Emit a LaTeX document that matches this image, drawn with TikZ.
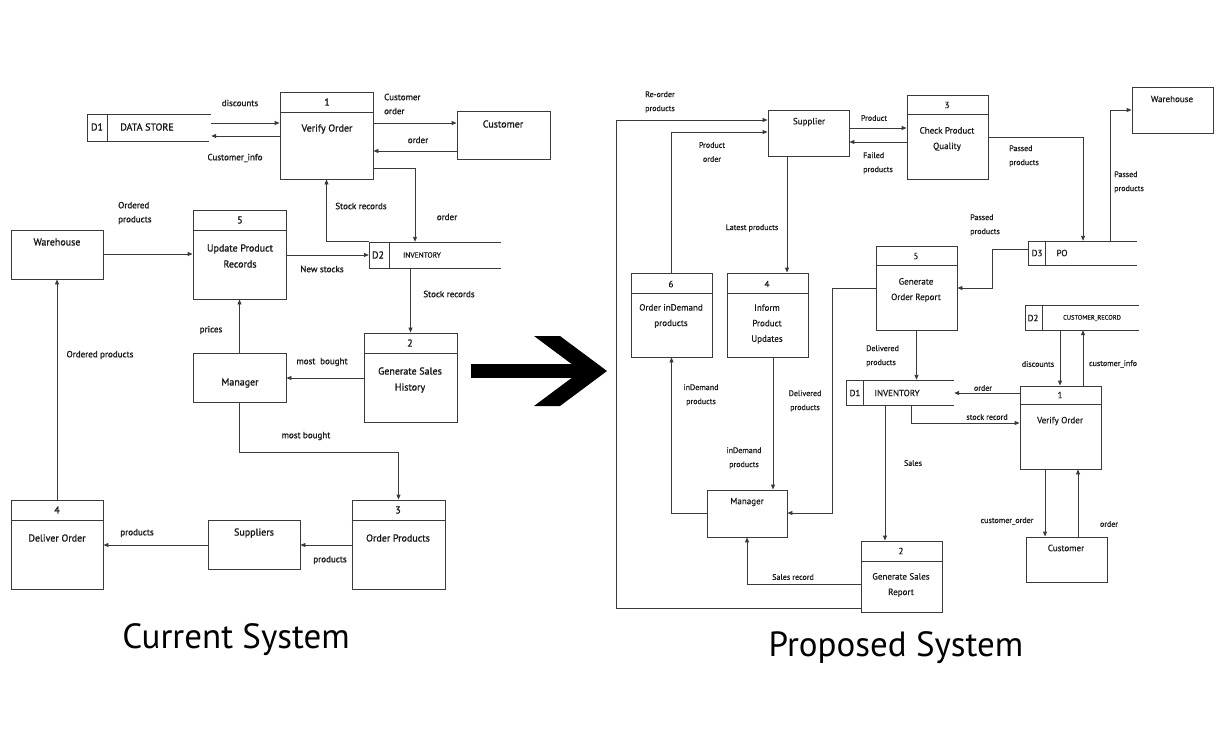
\documentclass[tikz,border=0pt]{standalone}
\usepackage{fontspec}
\setmainfont{PT Sans}
\newfontfamily\sembold[FakeBold=1.2]{PT Sans}
\newfontfamily\lightbold[FakeBold=0.5]{PT Sans}
\usetikzlibrary{fit,arrows.meta}
\definecolor{lc}{HTML}{3A3A3A}
\definecolor{tc}{HTML}{1A1A1A}
\begin{document}
\begin{tikzpicture}[x=1pt,y=-1pt,
  boxs/.style={draw=lc,line width=0.9pt,inner sep=0pt},
  hid/.style={inner sep=0pt},
  arr/.style={draw=lc,line width=0.9pt,-{Triangle[length=5pt,width=4pt]}},
  ln/.style={draw=lc,line width=0.9pt},
  lblL/.style={text=tc,font=\sembold\fontsize{9}{14}\selectfont,inner sep=0pt,align=center},
  lblR/.style={text=tc,font=\lightbold\fontsize{8}{14}\selectfont,inner sep=0pt,align=center},
  txtL/.style={text=tc,font=\sembold\fontsize{10}{16}\selectfont,inner sep=0pt,align=center},
  txtR/.style={text=tc,font=\lightbold\fontsize{9}{15.5}\selectfont,inner sep=0pt,align=center},
  title/.style={text=black,font=\fontsize{35}{40}\selectfont,inner sep=0pt}]
\useasboundingbox[fill=white] (0,0) rectangle (1216,742);

% ================= CURRENT SYSTEM =================
% data store D1
\node[hid,fit={(87,114) (211,141)}] (ds) {};
\draw[ln] (211,114) -- (87,114) -- (87,141) -- (209,141);
\draw[ln] (107,114) -- (107,141);
\node[txtL] at (97,127) {D1};
\node[txtL] at (147,127) {DATA STORE};

\node[boxs,fit={(280,92) (373,179)}] (vo) {};
\draw[ln] (vo.west |- 0,112) -- (vo.east |- 0,112);
\node[txtL] at (327,102) {1};
\node[txtL] at (327,129) {Verify Order};

\node[boxs,fit={(457,111) (550,159)}] (cu) {};
\node[txtL] at (503,124) {Customer};

% inventory D2
\node[hid,fit={(369,242) (501,268)}] (inv) {};
\draw[ln] (501,242) -- (369,242) -- (369,268) -- (501,268);
\draw[ln] (389,242) -- (389,268);
\node[txtL] at (378,255) {D2};
\node[txtL,font=\lightbold\fontsize{7.5}{9}\selectfont] at (422,255) {INVENTORY};

\node[boxs,fit={(11,230) (103,279)}] (wh) {};
\node[txtL] at (57,242) {Warehouse};

\node[boxs,fit={(193,210) (286,299)}] (up) {};
\draw[ln] (up.west |- 0,230) -- (up.east |- 0,230);
\node[txtL] at (240,220) {5};
\node[txtL] at (240,256) {Update Product\\Records};

\node[boxs,fit={(364,333) (457,422)}] (gs) {};
\draw[ln] (gs.west |- 0,353) -- (gs.east |- 0,353);
\node[txtL] at (410,343) {2};
\node[txtL] at (410,380) {Generate Sales\\History};

\node[boxs,fit={(193,353) (286,402)}] (mg) {};
\node[txtL] at (240,383) {Manager};

\node[boxs,fit={(352,500) (445,589)}] (op) {};
\draw[ln] (op.west |- 0,520) -- (op.east |- 0,520);
\node[txtL] at (398,510) {3};
\node[txtL] at (398,538) {Order Products};

\node[boxs,fit={(208,520) (300,569)}] (su) {};
\node[txtL] at (254,533) {Suppliers};

\node[boxs,fit={(11,500) (103,589)}] (de) {};
\draw[ln] (de.west |- 0,520) -- (de.east |- 0,520);
\node[txtL] at (57,510) {4};
\node[txtL] at (57,538) {Deliver Order};

% connectors
\draw[arr] (ds.east |- 0,123) -- (vo.west |- 0,123);
\draw[arr] (vo.west |- 0,136) -- (ds.east |- 0,136);
\draw[arr] (vo.east |- 0,123) -- (cu.west |- 0,123);
\draw[arr] (cu.west |- 0,151) -- (vo.east |- 0,151);
\draw[arr] (vo.east |- 0,168) -| (415,0 |- inv.north);
\draw[arr] (inv.north west) -| (vo.south);
\draw[arr] (wh.east |- 0,254) -- (up.west |- 0,254);
\draw[arr] (up.east |- 0,255) -- (inv.west |- 0,255);
\draw[arr] (inv.south -| gs.north) -- (gs.north);
\draw[arr] (gs.west |- 0,378) -- (mg.east |- 0,378);
\draw[arr] (mg.north) -- (up.south);
\draw[arr] (mg.south) -- ++(0,50) -| (op.north);
\draw[arr] (op.west |- 0,545) -- (su.east |- 0,545);
\draw[arr] (su.west |- 0,545) -- (de.east |- 0,545);
\draw[arr] (de.north) -- (wh.south);

% labels
\node[lblL] at (240,103) {discounts};
\node[lblL] at (235,158) {Customer\_info};
\node[lblL,anchor=west,align=left] at (384,104) {Customer\\order};
\node[lblL] at (418,140) {order};
\node[lblL] at (361,206) {Stock records};
\node[lblL] at (447,217) {order};
\node[lblL,anchor=west,align=left] at (118,213) {Ordered\\products};
\node[lblL] at (322,269) {New stocks};
\node[lblL] at (449,294) {Stock records};
\node[lblL] at (211,330) {prices};
\node[lblL] at (322,362) {most\ \ bought};
\node[lblL] at (100,355) {Ordered products};
\node[lblL] at (306,436) {most bought};
\node[lblL] at (137,533) {products};
\node[lblL] at (330,560) {products};

% ================= BIG ARROW =================
\fill[black] (471,364) rectangle (588,378);
\fill[black] (534,336) -- (560,336) -- (607,371) -- (560,406) -- (534,406) -- (581,371) -- cycle;

% ================= PROPOSED SYSTEM =================
\node[boxs,fit={(768,110) (849,156)}] (sp) {};
\node[txtR] at (809,122) {Supplier};

\node[boxs,fit={(907,95) (988,179)}] (cq) {};
\draw[ln] (cq.west |- 0,114) -- (cq.east |- 0,114);
\node[txtR] at (947,105) {3};
\node[txtR] at (947,139) {Check Product\\Quality};

\node[boxs,fit={(1132,87) (1213,133)}] (wr) {};
\node[txtR] at (1172,99) {Warehouse};

\node[hid,fit={(1028,241) (1137,265)}] (po) {};
\draw[ln] (1137,241) -- (1028,241) -- (1028,265) -- (1137,265);
\draw[ln] (1045,241) -- (1045,265);
\node[txtR] at (1037,253) {D3};
\node[txtR] at (1062,253) {PO};

\node[boxs,fit={(876,246) (957,330)}] (go) {};
\draw[ln] (go.west |- 0,265) -- (go.east |- 0,265);
\node[txtR] at (916,256) {5};
\node[txtR] at (916,290) {Generate\\Order Report};

\node[hid,fit={(846,380) (954,405)}] (inr) {};
\draw[ln] (954,380) -- (846,380) -- (846,405) -- (954,405);
\draw[ln] (863,380) -- (863,405);
\node[txtR] at (855,393) {D1};
\node[txtR] at (897,393) {INVENTORY};

\node[boxs,fit={(727,273) (808,357)}] (ip) {};
\draw[ln] (ip.west |- 0,293) -- (ip.east |- 0,293);
\node[txtR] at (767,284) {4};
\node[txtR] at (767,324) {Inform\\Product\\Updates};

\node[boxs,fit={(631,273) (712,357)}] (od) {};
\draw[ln] (od.west |- 0,293) -- (od.east |- 0,293);
\node[txtR] at (671,284) {6};
\node[txtR] at (671,316) {Order inDemand\\products};

\node[boxs,fit={(707,490) (787,537)}] (mr) {};
\node[txtR] at (747,502) {Manager};

\node[boxs,fit={(861,541) (942,612)}] (gr) {};
\draw[ln] (gr.west |- 0,561) -- (gr.east |- 0,561);
\node[txtR] at (901,551) {2};
\node[txtR] at (901,585) {Generate Sales\\Report};

\node[boxs,fit={(1020,386) (1101,469)}] (vr) {};
\draw[ln] (vr.west |- 0,404) -- (vr.east |- 0,404);
\node[txtR] at (1060,395) {1};
\node[txtR] at (1060,421) {Verify Order};

\node[hid,fit={(1025,305) (1139,330)}] (cr) {};
\draw[ln] (1139,305) -- (1025,305) -- (1025,330) -- (1139,330);
\draw[ln] (1042,305) -- (1042,330);
\node[txtR] at (1033,318) {D2};
\node[txtR,font=\lightbold\fontsize{6.5}{8}\selectfont] at (1092,318) {CUSTOMER\_RECORD};

\node[boxs,fit={(1026,537) (1107,582)}] (cs) {};
\node[txtR] at (1066,548) {Customer};

% connectors
\draw[arr] (gr.west |- 0,608) -- (616,608) -- (616,120) -- (sp.west |- 0,120);
\draw[arr] (od.north) |- (sp.west |- 0,132);
\draw[arr] (sp.south -| 787,0) -- (ip.north -| 787,0);
\draw[arr] (sp.east |- 0,128) -- (cq.west |- 0,128);
\draw[arr] (cq.west |- 0,142) -- (sp.east |- 0,142);
\draw[arr] (cq.east |- 0,137) -| (po.north -| 1083,0);
\draw[arr] (po.north -| 1110,0) |- (wr.west |- 0,110);
\draw[arr] (po.west |- 0,249) -- (992,249) |- (go.east |- 0,288);
\draw[arr] (go.south) -- (inr.north -| go.south);
\draw[arr] (go.west |- 0,288) -- (832,288) |- (mr.east |- 0,513);
\draw[arr] (ip.south -| 773,0) -- (mr.north -| 773,0);
\draw[arr] (mr.west |- 0,513) -| (od.south);
\draw[arr] (gr.west |- 0,584) -| (mr.south);
\draw[arr] (inr.south -| 885,0) -- (gr.north -| 885,0);
\draw[arr] (vr.west |- 0,393) -- (inr.east |- 0,393);
\draw[arr] (inr.south -| 911,0) |- (vr.west |- 0,423);
\draw[arr] (cr.south -| 1060,0) -- (vr.north -| 1060,0);
\draw[arr] (vr.north -| 1083,0) -- (cr.south -| 1083,0);
\draw[arr] (vr.south -| 1045,0) -- (cs.north -| 1045,0);
\draw[arr] (cs.north -| 1078,0) -- (vr.south -| 1078,0);

% labels
\node[lblR] at (660,102) {Re-order\\products};
\node[lblR] at (712,152) {Product\\order};
\node[lblR] at (752,228) {Latest products};
\node[lblR] at (874,118) {Product};
\node[lblR,anchor=west,align=left] at (863,163) {Failed\\products};
\node[lblR,anchor=west,align=left] at (1009,156) {Passed\\products};
\node[lblR,anchor=west,align=left] at (1114,182) {Passed\\products};
\node[lblR,anchor=west,align=left] at (970,225) {Passed\\products};
\node[lblR,anchor=west,align=left] at (866,356) {Delivered\\products};
\node[lblR] at (805,401) {Delivered\\products};
\node[lblR] at (701,395) {inDemand\\products};
\node[lblR] at (744,458) {inDemand\\products};
\node[lblR] at (913,463) {Sales};
\node[lblR] at (793,577) {Sales record};
\node[lblR] at (983,388) {order};
\node[lblR] at (987,417) {stock record};
\node[lblR] at (1038,364) {discounts};
\node[lblR] at (1113,364) {customer\_info};
\node[lblR] at (1007,521) {customer\_order};
\node[lblR] at (1109,524) {order};

% titles
\node[title] at (236,640) {Current System};
\node[title] at (896,648) {Proposed System};
\end{tikzpicture}
\end{document}
